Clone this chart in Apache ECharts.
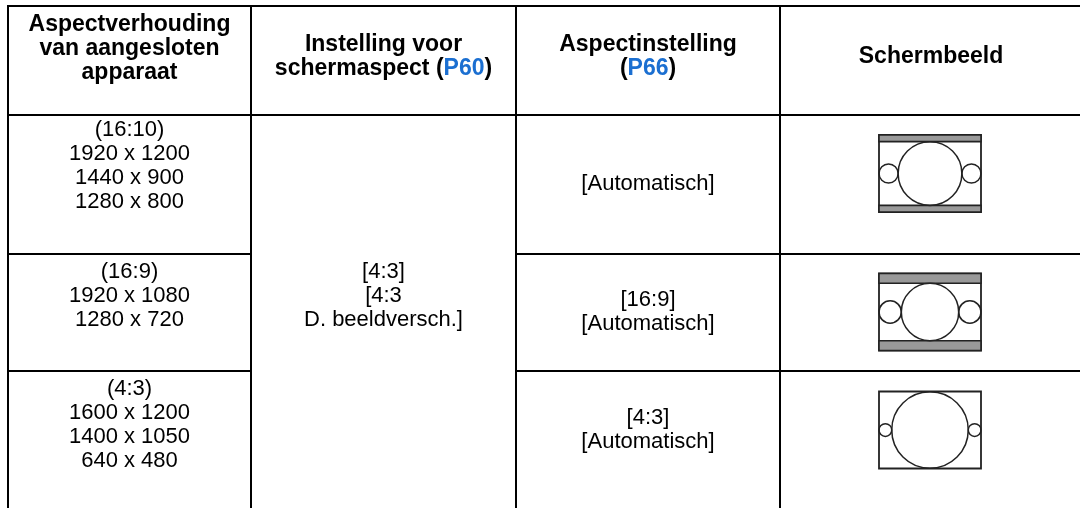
<!DOCTYPE html>
<html>
<head>
<meta charset="utf-8">
<script src="https://cdn.jsdelivr.net/npm/echarts@6/dist/echarts.min.js"></script>
<style>
html,body{margin:0;padding:0;background:#fff;}
#chart{width:1080px;height:508px;}
</style>
</head>
<body>
<div id="chart"></div>
<script>
// ---- table content (data) ----
const headers = [
  '{b|Aspectverhouding}\n{b|van aangesloten}\n{b|apparaat}',
  '{b|Instelling voor}\n{b|schermaspect (}{l|P60}{b|)}',
  '{b|Aspectinstelling}\n{b|(}{l|P66}{b|)}',
  '{b|Schermbeeld}'
];
const sourceRatios = [
  '(16:10)\n1920 x 1200\n1440 x 900\n1280 x 800',
  '(16:9)\n1920 x 1080\n1280 x 720',
  '(4:3)\n1600 x 1200\n1400 x 1050\n640 x 480'
];
const screenAspectSetting = '[4:3]\n[4:3\nD. beeldversch.]';
const aspectSettings = [
  '[Automatisch]',
  '[16:9]\n[Automatisch]',
  '[4:3]\n[Automatisch]'
];
const sourceAspect = [[16, 10], [16, 9], [4, 3]];

// ---- layout (positions / sizes) ----
const colEdges = [8, 251, 516, 780, 1082];
const rowEdges = [6, 115, 254, 371, 640];
const headerTextY = [49, 57, 57, 57];
const col1TextY = [166, 296, 425];
const col2TextY = 296;
const col3TextY = [184, 312, 430];
const iconCenterY = [173.5, 312, 430];
const iconCenterX = 930;
const frameW = 102, frameH = 77;
const FONT = '"Liberation Sans", Arial, Helvetica, sans-serif';
const FS = 22, FSB = 23, LH = 24;

// build cell list
const cells = [];
headers.forEach((t, i) => cells.push({c0: i, c1: i + 1, r0: 0, r1: 1, rich: t, ty: headerTextY[i]}));
sourceRatios.forEach((t, i) => cells.push({c0: 0, c1: 1, r0: i + 1, r1: i + 2, text: t, ty: col1TextY[i]}));
cells.push({c0: 1, c1: 2, r0: 1, r1: 4, text: screenAspectSetting, ty: col2TextY});
aspectSettings.forEach((t, i) => cells.push({c0: 2, c1: 3, r0: i + 1, r1: i + 2, text: t, ty: col3TextY[i]}));
sourceAspect.forEach((a, i) => cells.push({c0: 3, c1: 4, r0: i + 1, r1: i + 2, icon: a, iy: iconCenterY[i]}));

const seriesData = cells.map(c => [colEdges[c.c0], rowEdges[c.r0], colEdges[c.c1], rowEdges[c.r1]]);

function renderItem(params, api) {
  const c = cells[params.dataIndex];
  const p0 = api.coord([api.value(0), api.value(1)]);
  const p1 = api.coord([api.value(2), api.value(3)]);
  const children = [{
    type: 'rect',
    shape: {x: p0[0], y: p0[1], width: p1[0] - p0[0], height: p1[1] - p0[1]},
    style: {fill: '#fff', stroke: '#000', lineWidth: 2}
  }];
  const cx = (p0[0] + p1[0]) / 2;
  if (c.text || c.rich) {
    const ty = api.coord([0, c.ty])[1];
    const st = {
      x: cx, y: ty, align: 'center', verticalAlign: 'middle',
      fontFamily: FONT, fontSize: FS, lineHeight: LH, fill: '#000'
    };
    if (c.rich) {
      st.text = c.rich;
      st.fontSize = FSB;
      st.rich = {
        b: {fontFamily: FONT, fontSize: FSB, fontWeight: 'bold', lineHeight: LH, fill: '#000'},
        l: {fontFamily: FONT, fontSize: FSB, fontWeight: 'bold', lineHeight: LH, fill: '#1b6fd1'}
      };
    } else {
      st.text = c.text;
    }
    children.push({type: 'text', style: st, z2: 10});
  }
  if (c.icon) {
    const ctr = api.coord([iconCenterX, c.iy]);
    const x0 = ctr[0] - frameW / 2, y0 = ctr[1] - frameH / 2;
    const imgH = Math.min(frameH, frameW * c.icon[1] / c.icon[0]);
    const bar = (frameH - imgH) / 2;
    const stroke = '#222';
    children.push({type: 'rect', shape: {x: x0, y: y0, width: frameW, height: frameH},
      style: {fill: '#fff', stroke: stroke, lineWidth: 1.8}, z2: 5});
    if (bar > 0.5) {
      children.push({type: 'rect', shape: {x: x0, y: y0, width: frameW, height: bar},
        style: {fill: '#999999', stroke: stroke, lineWidth: 1.6}, z2: 6});
      children.push({type: 'rect', shape: {x: x0, y: y0 + frameH - bar, width: frameW, height: bar},
        style: {fill: '#999999', stroke: stroke, lineWidth: 1.6}, z2: 6});
    }
    const R = imgH / 2;
    const r = (frameW - imgH) / 4;
    children.push({type: 'circle', shape: {cx: ctr[0], cy: ctr[1], r: R},
      style: {fill: 'none', stroke: stroke, lineWidth: 1.5}, z2: 7});
    children.push({type: 'circle', shape: {cx: x0 + r, cy: ctr[1], r: r},
      style: {fill: 'none', stroke: stroke, lineWidth: 1.5}, z2: 7});
    children.push({type: 'circle', shape: {cx: x0 + frameW - r, cy: ctr[1], r: r},
      style: {fill: 'none', stroke: stroke, lineWidth: 1.5}, z2: 7});
  }
  return {type: 'group', children: children};
}

const chart = echarts.init(document.getElementById('chart'), null, {renderer: 'canvas'});
chart.setOption({
  animation: false,
  backgroundColor: '#fff',
  grid: {left: 0, right: 0, top: 0, bottom: 0},
  xAxis: {type: 'value', min: 0, max: 1080, show: false},
  yAxis: {type: 'value', min: 0, max: 508, inverse: true, show: false},
  series: [{
    type: 'custom',
    renderItem: renderItem,
    data: seriesData,
    clip: false,
    silent: true
  }]
});
</script>
</body>
</html>
